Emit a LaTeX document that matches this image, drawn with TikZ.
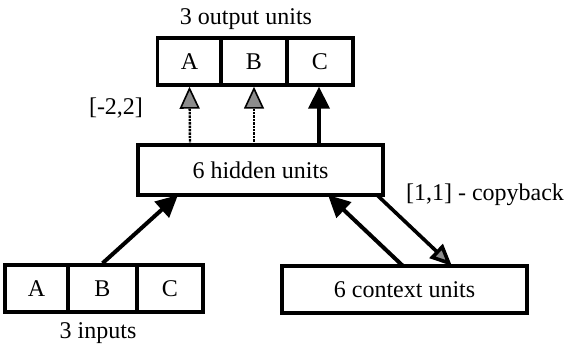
\documentclass[tikz,border=0pt]{standalone}
\usepackage{fontspec}
\setmainfont{Liberation Serif}
\usetikzlibrary{arrows.meta}
\begin{document}
\begin{tikzpicture}[x=1pt,y=-1pt,
  cell/.style={draw,line width=3.4pt,minimum height=47pt,inner sep=0pt,font=\fontsize{24}{26}\selectfont},
  lbl/.style={font=\fontsize{24}{26}\selectfont,inner sep=0pt},
  solidarr/.style={line width=4pt,-{Triangle[length=22pt,width=21pt]}},
  greyarr/.style={line width=2.4pt,densely dotted,-{Triangle[length=22pt,width=20pt,fill=black!45,line width=1.6pt]}},
  copyarr/.style={line width=3.6pt,-{Triangle[length=22pt,width=19pt,fill=black!45]}}]
\useasboundingbox (0,0) rectangle (568,345);
% output units
\node[cell,minimum width=64pt] (oA) at (189.5,61.5) {A};
\node[cell,minimum width=66pt] (oB) at (254,61.5) {B};
\node[cell,minimum width=66pt] (oC) at (320,61.5) {C};
\node[lbl] (olab) at (246,19) {3 output units};
% hidden
\node[cell,minimum width=245pt,minimum height=50pt] (hid) at (260.5,170) {6 hidden units};
\node[lbl] (wlab) at (116,108) {[-2,2]};
% inputs
\node[cell,minimum width=63pt] (iA) at (36.5,288.5) {A};
\node[cell,minimum width=69pt] (iB) at (102.5,288.5) {B};
\node[cell,minimum width=66pt] (iC) at (170,288.5) {C};
\node[lbl] (ilab) at (98,333) {3 inputs};
% context
\node[cell,minimum width=245pt] (ctx) at (404.5,289.5) {6 context units};
\node[lbl] (clab) at (485,195) {[1,1] - copyback};
% connectors
\coordinate (hA) at (190,145);
\coordinate (hB) at (254,145);
\coordinate (hC) at (319,145);
\draw[greyarr] (hA) -- (oA.south);
\draw[greyarr] (hB) -- (oB.south);
\draw[solidarr] (hC) -- (oC.south -| hC);
\coordinate (hin) at (178,195);
\draw[solidarr] (iB.north) -- (hin);
\coordinate (hctx) at (328,195);
\coordinate (ctop) at (403,266);
\draw[solidarr] (ctop) -- (hctx);
\coordinate (hcopy) at (377,195);
\coordinate (ccopy) at (452,266);
\draw[copyarr] (hcopy) -- (ccopy);
\end{tikzpicture}
\end{document}
